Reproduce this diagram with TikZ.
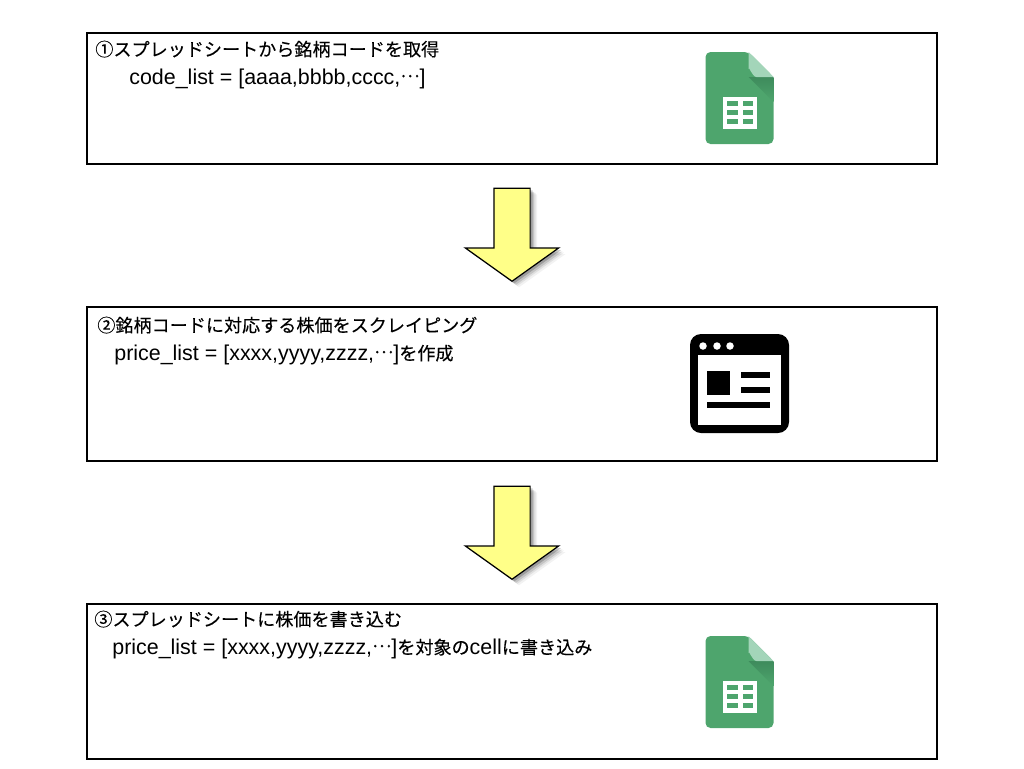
\documentclass[tikz,border=0pt]{standalone}
\usepackage{fontspec}
\setmainfont{Liberation Sans}
\newfontfamily\jpfont[FakeBold=.2]{Noto Sans CJK JP}
\newcommand{\jp}[1]{{\fontsize{10.3}{12}\jpfont #1}}
\newcommand{\cdotsjp}{\raisebox{.32em}{\jp{…}}}
\usetikzlibrary{shapes.arrows,shadows}
\definecolor{sheetgreen}{HTML}{4EA56D}
\definecolor{sheetfold}{HTML}{A3D5B9}
\definecolor{sheetdark}{HTML}{3E8B5C}
\definecolor{arrowyellow}{HTML}{FFFF88}
\tikzset{
  stepbox/.style={draw,line width=1.15pt,minimum width=17cm,inner sep=0pt},
  steptext/.style={anchor=base west,inner sep=0pt,font=\fontsize{12.2}{14}\selectfont},
  blockarrow/.style={draw,line width=.7pt,fill=arrowyellow,single arrow,shape border rotate=270,anchor=tip,
    minimum height=1.86cm,text width=.7cm,inner sep=0pt,single arrow head extend=.57cm,
    single arrow tip angle=109,
    drop shadow={shadow xshift=.14cm,shadow yshift=-.12cm,opacity=.05,fill=black},
    drop shadow={shadow xshift=.11cm,shadow yshift=-.09cm,opacity=.08,fill=black},
    drop shadow={shadow xshift=.08cm,shadow yshift=-.07cm,opacity=.12,fill=black},
    drop shadow={shadow xshift=.05cm,shadow yshift=-.04cm,opacity=.2,fill=black}},
  sheeticon/.pic={
    \fill [sheetgreen,rounded corners=.1cm] (0,0) -- (43,0) -- (68,25) -- (68,92) -- (0,92) -- cycle;
    \shade [top color=sheetdark,bottom color=sheetgreen] (43,25) -- (68,25) -- (68,50) -- cycle;
    \fill [sheetfold] (43,0) -- (68,25) -- (51,25) to [out=180,in=90] (43,17) -- cycle;
    \fill [white] (17.5,45) rectangle (51.5,77);
    \foreach \row in {49,58,66.5} {
      \fill [sheetgreen] (21.5,\row) rectangle (32,\row+5);
      \fill [sheetgreen] (37,\row) rectangle (47.5,\row+5);
    }
  }
}
\begin{document}
\begin{tikzpicture}[x=.02cm,y=-.02cm]
  \useasboundingbox (0,0) rectangle (1024,768);
  \node [stepbox,minimum height=2.62cm] (box1) at (512,98.5) {};
  \node [stepbox,minimum height=3.08cm] (box2) at (512,384) {};
  \node [stepbox,minimum height=3.10cm] (box3) at (512,681.5) {};
  \node [blockarrow] (arr1) at (512,282) {};
  \node [blockarrow] (arr2) at (512,580) {};
  \node [steptext] (title1) at (95,56) {\jp{①スプレッドシートから銘柄コードを取得}};
  \node [steptext] (list1) at (129,84) {code\_list = [aaaa,bbbb,cccc,\cdotsjp]};
  \node [steptext] (title2) at (97,332) {\jp{②銘柄コードに対応する株価をスクレイピング}};
  \node [steptext] (list2) at (114,360) {price\_list = [xxxx,yyyy,zzzz,\cdotsjp]\jp{を作成}};
  \node [steptext] (title3) at (94,626) {\jp{③スプレッドシートに株価を書き込む}};
  \node [steptext] (list3) at (112,654) {price\_list = [xxxx,yyyy,zzzz,\cdotsjp]\jp{を対象の}cell\jp{に書き込み}};
  \pic at (705.5,52) {sheeticon};
  \pic at (705.5,636) {sheeticon};
  % browser window
  \fill [black,rounded corners=.22cm] (690,334) rectangle (789,433);
  \fill [white] (698,355) rectangle (781,425);
  \foreach \dotx in {703,717,730}
    \fill [white] (\dotx,346) circle (.075cm);
  \fill (707,371) rectangle (730,395);
  \fill (741,372) rectangle (770,378);
  \fill (741,387) rectangle (770,393);
  \fill (707,402) rectangle (770,408);
\end{tikzpicture}
\end{document}
